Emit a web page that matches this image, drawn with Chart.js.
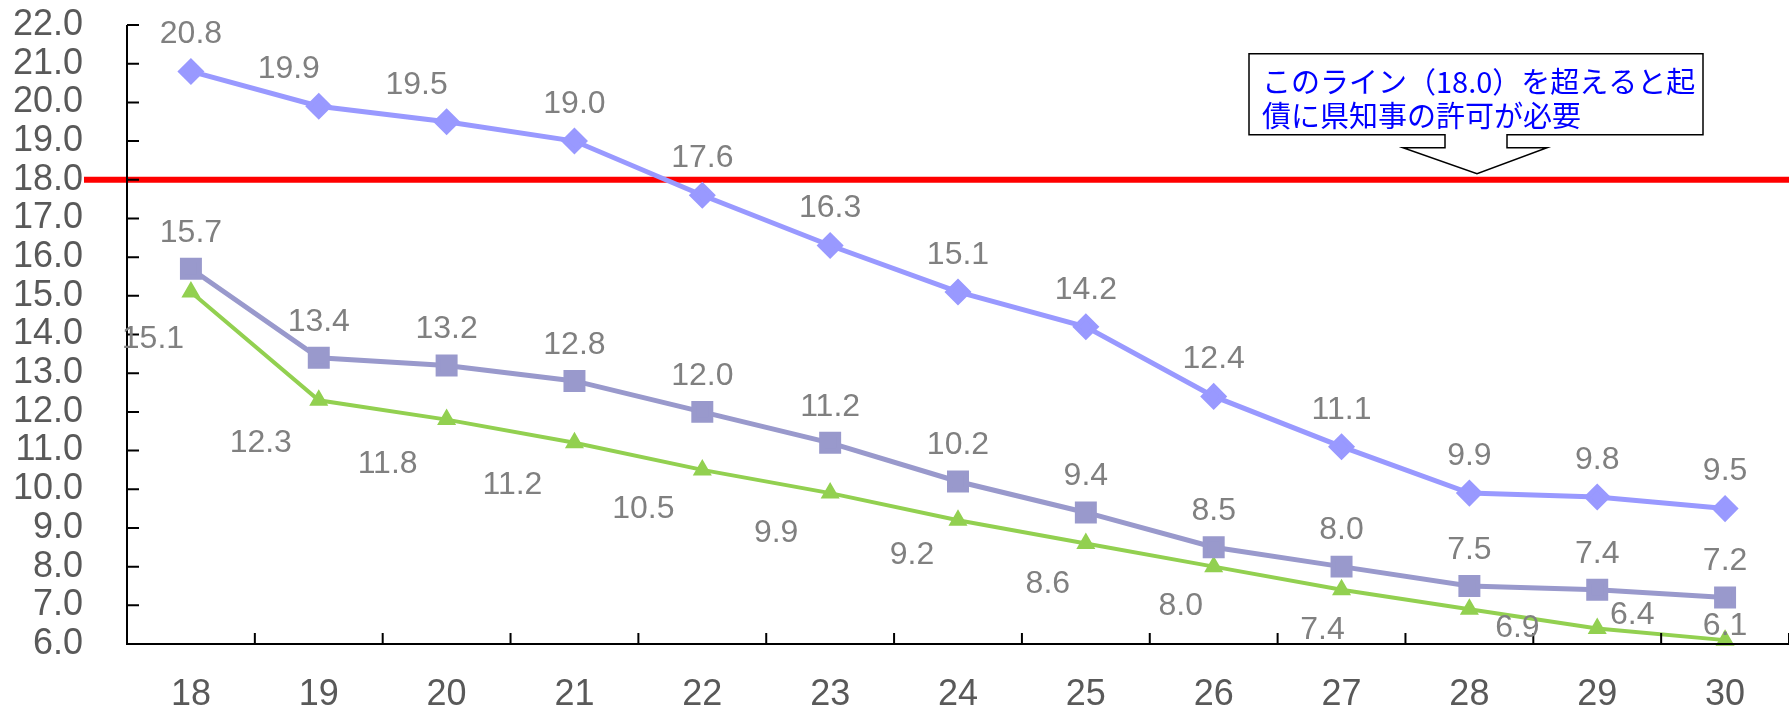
<!DOCTYPE html>
<html>
<head>
<meta charset="utf-8">
<script src="https://cdn.jsdelivr.net/npm/chart.js@4.4.1/dist/chart.umd.min.js"></script>
<style>
  html, body { margin: 0; padding: 0; background: #fff; }
  #ratioChart { display: block; }
</style>
</head>
<body>
<canvas id="ratioChart" width="1789" height="705"></canvas>
<script>
// data
const years = ['18', '19', '20', '21', '22', '23', '24', '25', '26', '27', '28', '29', '30'];
const seriesDiamond = [20.8, 19.9, 19.5, 19.0, 17.6, 16.3, 15.1, 14.2, 12.4, 11.1, 9.9, 9.8, 9.5];
const seriesSquare = [15.7, 13.4, 13.2, 12.8, 12.0, 11.2, 10.2, 9.4, 8.5, 8.0, 7.5, 7.4, 7.2];
const seriesTriangle = [15.1, 12.3, 11.8, 11.2, 10.5, 9.9, 9.2, 8.6, 8.0, 7.4, 6.9, 6.4, 6.1];
const yMin = 6;
const yMax = 22;
const limitValue = 18.0;
const calloutLines = ['このライン（18.0）を超えると起', '債に県知事の許可が必要'];

// label offsets (px) relative to each point
const offDiamond = [[0, -37], [-30, -37], [-30, -37], [0, -37], [0, -37], [0, -37], [0, -37],
    [0, -37], [0, -37], [0, -37], [0, -37], [0, -37], [0, -37]];
const offSquare = years.map(() => [0, -36]);
const offTriangle = [[-38, 47], [-58, 43], [-59, 45], [-62, 42], [-59, 39], [-54, 40], [-46, 35],
    [-38, 41], [-33, 40], [-19, 40], [48, 19], [35, -13], [0, -14]];

document.addEventListener('DOMContentLoaded', () => {

    const axisFont = { family: 'Arial, "Liberation Sans", sans-serif', size: 36 };
    const noPadding = (s) => {
        s.paddingTop = 0; s.paddingBottom = 0;
        s.paddingLeft = 0; s.paddingRight = 0;
    };

    // limit line, axes, data labels and callout
    const decorations = {
        id: 'decorations',
        beforeDatasetsDraw(chart) {
            const { ctx, scales } = chart;
            const y = scales.y.getPixelForValue(limitValue);
            ctx.save();
            ctx.strokeStyle = '#FF0000';
            ctx.lineWidth = 6;
            ctx.beginPath();
            ctx.moveTo(84, y);
            ctx.lineTo(chart.width, y);
            ctx.stroke();
            ctx.restore();
        },
        afterDatasetsDraw(chart) {
            const { ctx, chartArea, scales } = chart;
            const ys = scales.y;
            ctx.save();

            // axes
            ctx.strokeStyle = '#000';
            ctx.lineWidth = 2;
            ctx.beginPath();
            ctx.moveTo(chartArea.left, chartArea.top);
            ctx.lineTo(chartArea.left, chartArea.bottom);
            ctx.lineTo(chart.width, chartArea.bottom);
            for (let v = yMin; v <= yMax; v++) {
                const py = ys.getPixelForValue(v);
                ctx.moveTo(chartArea.left, py);
                ctx.lineTo(chartArea.left + 12, py);
            }
            const step = (chartArea.right - chartArea.left) / years.length;
            for (let i = 1; i <= years.length; i++) {
                const px = chartArea.left + step * i;
                ctx.moveTo(px, chartArea.bottom);
                ctx.lineTo(px, chartArea.bottom - 11);
            }
            ctx.stroke();

            // data labels
            const offsets = [offDiamond, offSquare, offTriangle];
            ctx.fillStyle = '#808080';
            ctx.font = '32px Arial, "Liberation Sans", sans-serif';
            ctx.textAlign = 'center';
            ctx.textBaseline = 'middle';
            chart.data.datasets.forEach((ds, di) => {
                const meta = chart.getDatasetMeta(di);
                meta.data.forEach((pt, i) => {
                    const [dx, dy] = offsets[di][i];
                    ctx.fillText(ds.data[i].toFixed(1), pt.x + dx, pt.y + dy);
                });
            });

            // callout box with down arrow pointing at the limit line
            const tipY = ys.getPixelForValue(limitValue) - 6;
            const tipX = 1477;
            const top = tipY - 120, bottom = tipY - 39, neck = tipY - 26;
            ctx.beginPath();
            ctx.moveTo(1249, top);
            ctx.lineTo(1703, top);
            ctx.lineTo(1703, bottom);
            ctx.lineTo(tipX + 30, bottom);
            ctx.lineTo(tipX + 30, neck);
            ctx.lineTo(tipX + 70, neck);
            ctx.lineTo(tipX, tipY);
            ctx.lineTo(tipX - 74, neck);
            ctx.lineTo(tipX - 32, neck);
            ctx.lineTo(tipX - 32, bottom);
            ctx.lineTo(1249, bottom);
            ctx.closePath();
            ctx.fillStyle = '#fff';
            ctx.fill();
            ctx.lineWidth = 1.5;
            ctx.strokeStyle = '#000';
            ctx.stroke();

            ctx.fillStyle = '#0000FF';
            ctx.font = '29px "Noto Sans CJK JP", sans-serif';
            ctx.textAlign = 'left';
            ctx.textBaseline = 'middle';
            calloutLines.forEach((line, i) => {
                ctx.fillText(line, 1262, top + 28 + i * 34);
            });
            ctx.restore();
        }
    };

    const ratioCtx = document.getElementById('ratioChart');
    if (ratioCtx) {
        new Chart(ratioCtx, {
            type: 'line',
            data: {
                labels: years,
                datasets: [{
                    data: seriesDiamond,
                    borderColor: '#9999FF',
                    backgroundColor: '#9999FF',
                    borderWidth: 5,
                    pointStyle: 'rectRot',
                    pointRadius: 10,
                    tension: 0
                }, {
                    data: seriesSquare,
                    borderColor: '#9999CC',
                    backgroundColor: '#9999CC',
                    borderWidth: 5,
                    pointStyle: 'rect',
                    pointRadius: 12,
                    tension: 0
                }, {
                    data: seriesTriangle,
                    borderColor: '#92D050',
                    backgroundColor: '#92D050',
                    borderWidth: 4,
                    pointStyle: 'triangle',
                    pointRadius: 7,
                    tension: 0
                }]
            },
            options: {
                responsive: false,
                animation: false,
                clip: false,
                layout: { autoPadding: false, padding: { top: 25, left: 0, right: 0, bottom: 0 } },
                plugins: {
                    legend: { display: false },
                    tooltip: { enabled: false }
                },
                scales: {
                    x: {
                        offset: true,
                        grid: { display: false },
                        border: { display: false },
                        ticks: { font: axisFont, color: '#595959', padding: 21, maxRotation: 0, autoSkip: false },
                        afterFit: (s) => { s.height = 61; noPadding(s); }
                    },
                    y: {
                        min: yMin,
                        max: yMax,
                        grid: { display: false, drawTicks: false },
                        border: { display: false },
                        ticks: {
                            stepSize: 1,
                            autoSkip: false,
                            font: axisFont,
                            color: '#595959',
                            padding: 44,
                            callback: (v) => Number(v).toFixed(1)
                        },
                        afterFit: (s) => { s.width = 127; noPadding(s); }
                    }
                }
            },
            plugins: [decorations]
        });
    }
});
</script>
</body>
</html>
